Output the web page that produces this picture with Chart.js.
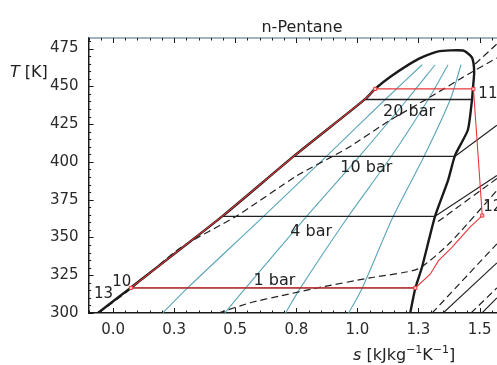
<!DOCTYPE html>
<html>
<head>
<meta charset="utf-8">
<script src="https://cdn.jsdelivr.net/npm/chart.js@4.4.0/dist/chart.umd.min.js"></script>
<style>
html, body { margin: 0; padding: 0; background: #fff; overflow: hidden; }
#wrap { position: relative; width: 510px; height: 365px; }
</style>
</head>
<body>
<div id="wrap"><canvas id="mycanvas"></canvas></div>
<script>
// saturation dome: liquid line, over the top, down the vapour line
var domeS = [-0.062, 0.073, 0.448, 0.740, 1.033, 1.073, 1.135, 1.245, 1.327, 1.433, 1.469, 1.478, 1.473, 1.469, 1.452, 1.400, 1.371, 1.318, 1.264, 1.237, 1.216];
var domeT = [300, 316.8, 364.1, 403.8, 441.7, 448.4, 456.4, 467.7, 473.0, 473.7, 469.0, 459.7, 449.0, 441.1, 421.1, 404.5, 387.8, 364.1, 330.1, 316.4, 300];

// isobars inside the dome (s from liquid to vapour) and their superheated parts
var isobarNames = ['20 bar', '10 bar', '4 bar', '1 bar'];
var isobarT = [441.3, 403.7, 364.0, 316.6];
var isobarSLiq = [1.025, 0.740, 0.446, 0.073];
var isobarSVap = [1.468, 1.400, 1.318, 1.237];
var bar10GasS = [1.400, 1.571];
var bar10GasT = [403.7, 424.3];
var bar4GasS = [1.318, 1.571];
var bar4GasT = [364.0, 391.0];

// quality lines (teal)
var qualityT = [300, 316.6, 364.0, 403.7, 441.3, 464.3];
var q02S = [0.203, 0.305, 0.616, 0.873, 1.114, 1.265];
var q04S = [0.457, 0.543, 0.792, 1.008, 1.204, 1.318];
var q06S = [0.706, 0.767, 0.963, 1.139, 1.290, 1.371];
var q08S = [0.964, 1.020, 1.147, 1.273, 1.380, 1.424];

// dashed lines
var d1S = [-0.059, 0.072, 0.276, 0.509, 0.754, 0.958, 1.134, 1.298, 1.433, 1.571];
var d1T = [300, 315.9, 343.2, 364.5, 391.0, 409.0, 427.6, 442.9, 456.1, 468.8];
var d2S = [1.482, 1.571];
var d2T = [464.8, 478.1];
var d3S = [0.431, 0.562, 0.684, 0.836, 1.052, 1.248, 1.379, 1.571];
var d3T = [300, 306.8, 311.3, 316.6, 323.3, 329.2, 346.5, 381.1];
var d4S = [1.330, 1.571];
var d4T = [360.5, 389.0];
var d5S = [1.306, 1.571];
var d5T = [300, 345.8];
var d6S = [1.465, 1.571];
var d6T = [300, 316.6];

// solid gas-region lines from the bottom
var g1S = [1.351, 1.571];
var g1T = [300, 333.2];
var g2S = [1.510, 1.571];
var g2T = [300, 310];

// cycle (red)
var redS = [0.073, 0.448, 0.740, 1.033, 1.073, 1.475, 1.511, 1.461, 1.387, 1.332, 1.298, 1.237, 0.073];
var redT = [316.6, 364.1, 403.8, 441.7, 448.3, 448.3, 364.5, 356.8, 343.4, 334.6, 325.7, 316.6, 316.6];
var statePtS = [0.073, 1.073, 1.475, 1.511, 1.237];
var statePtT = [316.6, 448.3, 448.3, 364.5, 316.6];
var stateNames = ['13', '10', '11', '12'];

// axes
var xTickValues = [0, 0.25, 0.5, 0.75, 1.0, 1.25, 1.5];
var xTickLabels = ['0.0', '0.3', '0.5', '0.8', '1.0', '1.3', '1.5'];
var yTickValues = [300, 325, 350, 375, 400, 425, 450, 475];
var yTickLabels = ['300', '325', '350', '375', '400', '425', '450', '475'];

function pts(s, t) {
	var out = [];
	for (var i = 0; i < s.length; i++) {
		out.push({x: s[i], y: t[i]});
	}
	return out;
}

var FONT = 'DejaVu Sans';
var TEAL = '#5aa6b7';
var RED = '#e8373a';
var INK = '#1a1a1a';

function line(data, color, width, dash, tension) {
	return {
		data: data,
		showLine: true,
		borderColor: color,
		borderWidth: width,
		borderDash: dash || [],
		pointRadius: 0,
		tension: tension || 0,
		fill: false
	};
}

var datasets = [];
// red cycle on top
datasets.push({
	data: pts(statePtS, statePtT),
	showLine: false,
	pointStyle: 'rect',
	pointRadius: 2.2,
	borderColor: RED,
	borderWidth: 1,
	backgroundColor: '#ffd0d0'
});
datasets.push(line(pts(redS, redT), RED, 1.1));
datasets.push(line(pts(domeS, domeT), INK, 2.4, null, 0.2));
for (var i = 0; i < isobarT.length; i++) {
	datasets.push(line(pts([isobarSLiq[i], isobarSVap[i]], [isobarT[i], isobarT[i]]), '#202020', 1.3));
}
datasets.push(line(pts(bar10GasS, bar10GasT), '#202020', 1.1));
datasets.push(line(pts(bar4GasS, bar4GasT), '#202020', 1.1));
datasets.push(line(pts(g1S, g1T), '#202020', 1.1));
datasets.push(line(pts(g2S, g2T), '#202020', 1.1));
[d1S, d2S, d3S, d4S, d5S, d6S].forEach(function (s, k) {
	var t = [d1T, d2T, d3T, d4T, d5T, d6T][k];
	datasets.push(line(pts(s, t), '#202020', 1.2, [7, 4], 0.2));
});
[q02S, q04S, q06S, q08S].forEach(function (s) {
	datasets.push(line(pts(s, qualityT), TEAL, 1.1, null, 0.3));
});

// frame with inward ticks, top border line
var framePlugin = {
	id: 'frame',
	afterDraw: function (chart) {
		var ctx = chart.ctx, a = chart.chartArea;
		var xs = chart.scales.x, ys = chart.scales.y;
		ctx.save();
		ctx.strokeStyle = '#7f9bab';
		ctx.lineWidth = 1.5;
		ctx.beginPath();
		ctx.moveTo(a.left, a.top);
		ctx.lineTo(a.right + 20, a.top);
		ctx.stroke();
		ctx.strokeStyle = INK;
		ctx.lineWidth = 1;
		ctx.beginPath();
		for (var k = -2; k <= 32; k++) {
			var px = Math.round(xs.getPixelForValue(k * 0.05)) + 0.5;
			var len = (k % 5 === 0) ? 5 : 2.5;
			ctx.moveTo(px, a.bottom);
			ctx.lineTo(px, a.bottom - len);
			ctx.moveTo(px, a.top);
			ctx.lineTo(px, a.top + len);
		}
		for (var t = 300; t <= 480; t += 5) {
			var py = Math.round(ys.getPixelForValue(t)) + 0.5;
			var l2 = (t % 25 === 0) ? 5 : 2.5;
			ctx.moveTo(a.left, py);
			ctx.lineTo(a.left + l2, py);
		}
		ctx.stroke();
		ctx.restore();
	}
};

// text inside the plot and axis titles
var textPlugin = {
	id: 'texts',
	afterDraw: function (chart) {
		var ctx = chart.ctx;
		var xs = chart.scales.x, ys = chart.scales.y;
		ctx.save();
		ctx.fillStyle = '#222';
		ctx.textBaseline = 'alphabetic';
		ctx.textAlign = 'left';

		function at(txt, s, t, size) {
			ctx.font = size + 'px "' + FONT + '"';
			ctx.fillText(txt, xs.getPixelForValue(s), ys.getPixelForValue(t));
		}
		var labelS = [1.105, 0.930, 0.725, 0.575];
		var labelT = [430.2, 393.2, 351.2, 318.6];
		for (var i = 0; i < isobarNames.length; i++) {
			at(isobarNames[i], labelS[i], labelT[i], 16);
		}
		var stS = [-0.078, -0.003, 1.495, 1.515];
		var stT = [310.2, 317.9, 442.0, 367.8];
		for (var j = 0; j < stateNames.length; j++) {
			at(stateNames[j], stS[j], stT[j], 15);
		}

		// title
		ctx.textAlign = 'center';
		ctx.font = '16px "' + FONT + '"';
		ctx.fillText('n-Pentane', 302, 32);

		// y title
		ctx.textAlign = 'left';
		ctx.font = 'italic 16px "' + FONT + '"';
		ctx.fillText('T', 10, 77);
		var w = ctx.measureText('T').width;
		ctx.font = '16px "' + FONT + '"';
		ctx.fillText(' [K]', 10 + w, 77);

		// x title
		var x = 353, y = 360;
		ctx.font = 'italic 16px "' + FONT + '"';
		ctx.fillText('s', x, y);
		x += ctx.measureText('s').width;
		ctx.font = '16px "' + FONT + '"';
		ctx.fillText(' [kJkg', x, y);
		x += ctx.measureText(' [kJkg').width;
		ctx.font = '11px "' + FONT + '"';
		ctx.fillText('\u22121', x, y - 7);
		x += ctx.measureText('\u22121').width;
		ctx.font = '16px "' + FONT + '"';
		ctx.fillText('K', x, y);
		x += ctx.measureText('K').width;
		ctx.font = '11px "' + FONT + '"';
		ctx.fillText('\u22121', x, y - 7);
		x += ctx.measureText('\u22121').width;
		ctx.font = '16px "' + FONT + '"';
		ctx.fillText(']', x, y);
		ctx.restore();
	}
};

var ctx = document.getElementById('mycanvas');
var chart = new Chart(ctx, {
	type: 'scatter',
	data: { datasets: datasets },
	options: {
		responsive: true,
		maintainAspectRatio: false,
		animation: false,
		layout: { padding: { left: 40, right: 6, top: 38, bottom: 18 } },
		plugins: { legend: { display: false }, tooltip: { enabled: false } },
		scales: {
			x: {
				type: 'linear',
				min: -0.1,
				max: 1.6,
				afterBuildTicks: function (axis) {
					axis.ticks = xTickValues.map(function (v) { return {value: v}; });
				},
				ticks: {
					autoSkip: false,
					maxRotation: 0,
					padding: 8,
					color: '#2a2a2a',
					font: { family: FONT, size: 15 },
					callback: function (v, i) { return xTickLabels[i]; }
				},
				grid: { drawOnChartArea: false, drawTicks: false },
				border: { color: INK, width: 1.5 }
			},
			y: {
				type: 'linear',
				min: 300,
				max: 482,
				afterBuildTicks: function (axis) {
					axis.ticks = yTickValues.map(function (v) { return {value: v}; });
				},
				ticks: {
					autoSkip: false,
					padding: 10,
					color: '#2a2a2a',
					font: { family: FONT, size: 15 },
					callback: function (v, i) { return yTickLabels[i]; }
				},
				grid: { drawOnChartArea: false, drawTicks: false },
				border: { color: INK, width: 1.5 }
			}
		}
	},
	plugins: [framePlugin, textPlugin]
});
</script>
</body>
</html>
